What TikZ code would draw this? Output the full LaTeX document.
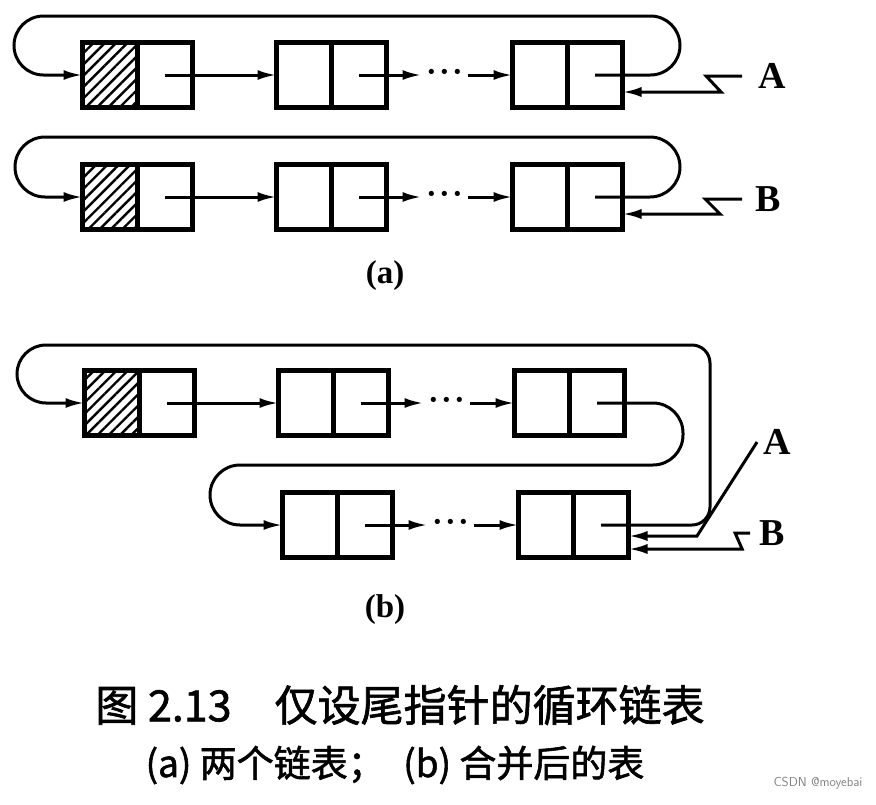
\documentclass[tikz,border=0pt]{standalone}
\usepackage{fontspec}
\setmainfont{Liberation Serif}
\newfontfamily\cjk[FakeBold=1.5]{Noto Sans CJK SC}
\usetikzlibrary{positioning,arrows.meta,patterns.meta}

\begin{document}
\begin{tikzpicture}[x=1pt, y=1pt,
  cell/.style={draw, line width=4.4pt, minimum width=55pt, minimum height=65pt, inner sep=0pt, outer sep=0pt},
  head/.style={cell, pattern={Lines[angle=45, distance=8pt, line width=2.4pt]}},
  ptr/.style={line width=3pt, -{Latex[length=19pt, width=10pt]}},
  ellip/.style={minimum width=46pt, inner sep=0pt, text height=22.4pt, text depth=0pt, font=\fontsize{44}{44}\selectfont},
  lbl/.style={inner sep=0pt, font=\fontsize{38}{40}\selectfont\bfseries},
  sub/.style={inner sep=0pt, font=\fontsize{33}{35}\selectfont\bfseries},
  captext/.style={inner sep=0pt, font=\cjk\fontsize{43}{45}\selectfont}]
  \useasboundingbox (0,0) rectangle (876,-804);

  \node[head] (la1) at (110,-75) {};
  \node[cell, right=0pt of la1] (la1n) {};
  \node[cell, right=84pt of la1n] (la2) {};
  \node[cell, right=0pt of la2] (la2n) {};
  \node[ellip, right=35pt of la2n] (lad) {·\kern-2pt·\kern-2pt·};
  \node[cell, right=126pt of la2n] (la3) {};
  \node[cell, right=0pt of la3] (la3n) {};
  \node[lbl] (A1) at (772,-76) {A};
  \draw[ptr] (la1n.center) -- (la2.west);
  \draw[ptr] (la2n.center) -- (lad.west);
  \draw[ptr] (lad.east) -- (la3.west);
  \draw[ptr, rounded corners=29.5pt] (la3n.center) -- (680,-75) -- (680,-16) -- (14,-16) -- (14,-75) -- (la1.west);
  \draw[ptr] ([xshift=-16pt]A1.west) -- ++(-36,0) -- ++(15,-16) -- (la3n.east |- 0,-92);

  \node[head] (lb1) at (110,-197) {};
  \node[cell, right=0pt of lb1] (lb1n) {};
  \node[cell, right=84pt of lb1n] (lb2) {};
  \node[cell, right=0pt of lb2] (lb2n) {};
  \node[ellip, right=35pt of lb2n] (lbd) {·\kern-2pt·\kern-2pt·};
  \node[cell, right=126pt of lb2n] (lb3) {};
  \node[cell, right=0pt of lb3] (lb3n) {};
  \node[lbl] (B1) at (768,-199) {B};
  \draw[ptr] (lb1n.center) -- (lb2.west);
  \draw[ptr] (lb2n.center) -- (lbd.west);
  \draw[ptr] (lbd.east) -- (lb3.west);
  \draw[ptr, rounded corners=30pt] (lb3n.center) -- (680,-197) -- (680,-137) -- (15,-137) -- (15,-197) -- (lb1.west);
  \draw[ptr] ([xshift=-13pt]B1.west) -- ++(-37,0) -- ++(15,-15) -- (lb3n.east |- 0,-214);

  \node[sub] (capa) at (385,-276) {(a)};

  \node[head] (ma1) at (112,-403) {};
  \node[cell, right=0pt of ma1] (ma1n) {};
  \node[cell, right=84pt of ma1n] (ma2) {};
  \node[cell, right=0pt of ma2] (ma2n) {};
  \node[ellip, right=35pt of ma2n] (mad) {·\kern-2pt·\kern-2pt·};
  \node[cell, right=126pt of ma2n] (ma3) {};
  \node[cell, right=0pt of ma3] (ma3n) {};
  \draw[ptr] (ma1n.center) -- (ma2.west);
  \draw[ptr] (ma2n.center) -- (mad.west);
  \draw[ptr] (mad.east) -- (ma3.west);

  \node[cell] (mb1) at (310,-525) {};
  \node[cell, right=0pt of mb1] (mb1n) {};
  \node[ellip, right=35pt of mb1n] (mbd) {·\kern-2pt·\kern-2pt·};
  \node[cell, right=126pt of mb1n] (mb2) {};
  \node[cell, right=0pt of mb2] (mb2n) {};
  \draw[ptr] (mb1n.center) -- (mbd.west);
  \draw[ptr] (mbd.east) -- (mb2.west);
  \draw[ptr, rounded corners=30pt] (ma3n.center) -- (683,-403) -- (683,-465) -- (210,-465) -- (210,-525) -- (mb1.west);
  \draw[ptr] (mb2n.center) -- (692,-525) arc[start angle=-90, end angle=0, radius=18] -- (710,-363)
    arc[start angle=0, end angle=90, radius=18] -- (46,-345) arc[start angle=90, end angle=270, radius=29] -- (ma1.west);

  \node[lbl] (A2) at (777,-442) {A};
  \node[lbl] (B2) at (772,-533) {B};
  \draw[ptr] ([xshift=-6pt]A2.west) -- (697,-536) -- (mb2n.east |- 0,-536);
  \draw[ptr] ([xshift=-9pt]B2.west) -- ++(-15,0) -- ++(7,-16) -- (mb2n.east |- 0,-549);

  \node[sub] (capb) at (385,-610) {(b)};

  \node[captext] (title) at (400,-705) {图 2.13\quad 仅设尾指针的循环链表};
  \node[captext, font=\cjk\fontsize{37}{39}\selectfont] (note) at (395,-765) {(a) 两个链表；\enspace(b) 合并后的表};
  \node[inner sep=0pt, text=gray, font=\sffamily\fontsize{13}{14}\selectfont] (mark) at (818,-783) {CSDN @moyebai};
\end{tikzpicture}
\end{document}
